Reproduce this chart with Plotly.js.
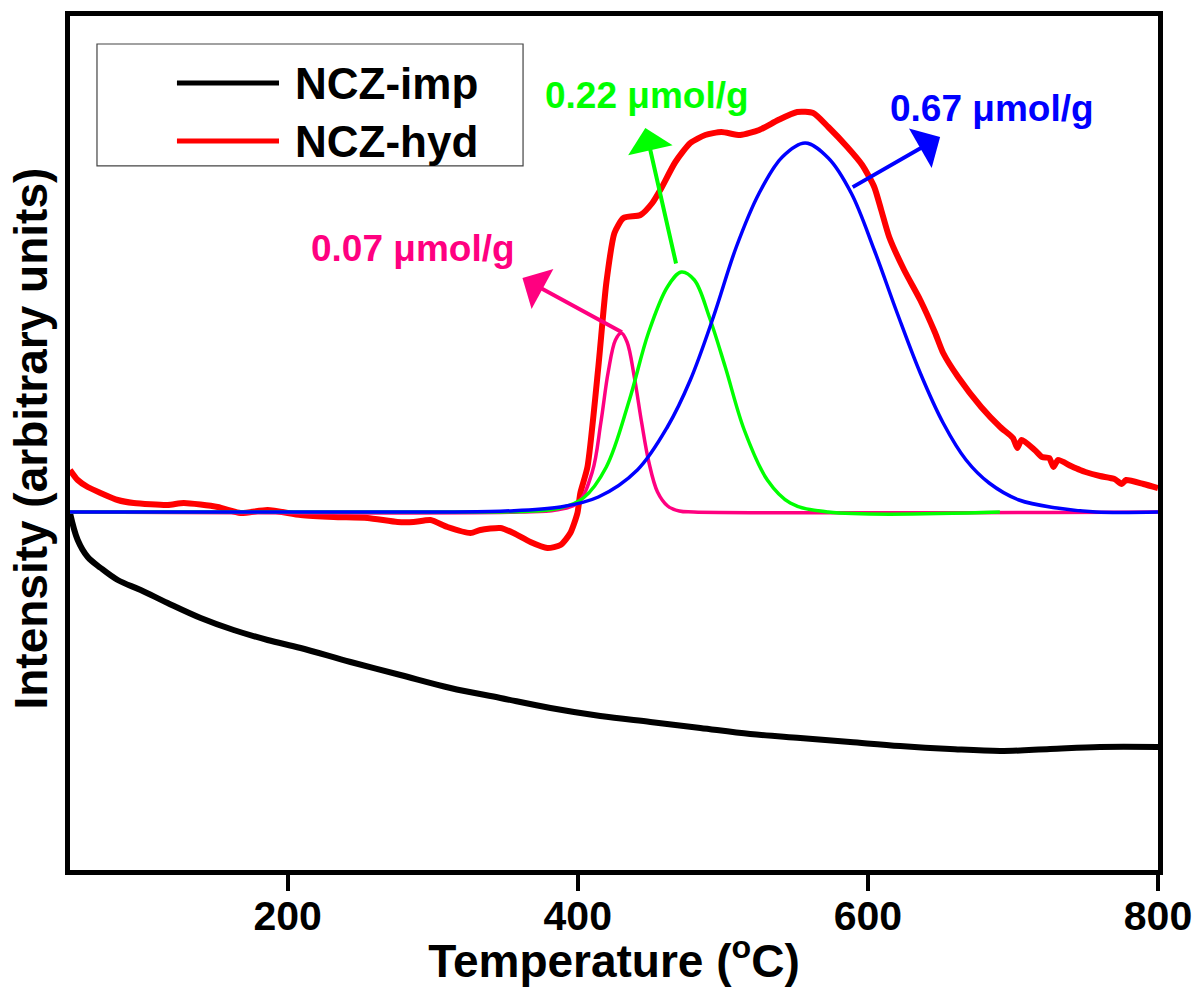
<!DOCTYPE html>
<html>
<head>
<meta charset="utf-8">
<script src="https://cdn.plot.ly/plotly-3.0.1.min.js"></script>
<style>html,body{margin:0;padding:0;background:#fff;}#chart{width:1201px;height:987px;}</style>
</head>
<body>
<div id="chart"></div>
<script>
// ---- data (temperature in °C, intensity in arbitrary units, baseline = 0) ----
const seriesNames = ["NCZ-imp", "NCZ-hyd"];
const peakLabels = ["0.07 \u03bcmol/g", "0.22 \u03bcmol/g", "0.67 \u03bcmol/g"];
const xTickVals = [200, 400, 600, 800];

const impT = [50, 55.3, 62.2, 71.2, 82.9, 98.7, 117.3, 140.1, 162.8, 186.2, 209, 243.4, 277.8, 312.3, 346.7, 381.2, 415.6, 450.1, 484.5, 518.9, 553.4, 587.8, 622.3, 656.7, 691.2, 725.6, 760, 800];
const impI = [-0.01, -0.28, -0.45, -0.56, -0.68, -0.78, -0.91, -1.06, -1.18, -1.28, -1.36, -1.50, -1.63, -1.76, -1.86, -1.96, -2.04, -2.10, -2.16, -2.22, -2.26, -2.30, -2.34, -2.37, -2.39, -2.37, -2.35, -2.35];

const hydT = [50, 55.3, 62.2, 71.2, 82.9, 93.9, 117.3, 128.4, 151.8, 167.6, 186.2, 209, 231.7, 255.1, 275.8, 286.8, 298.5, 310.2, 326.1, 332.9, 346.7, 355.7, 367.4, 379.1, 388.1, 394.9, 399.8, 401.8, 406.7, 414.2, 419.7, 425.3, 431.5, 443.2, 451.4, 456.9, 467.3, 477.6, 487.9, 499, 512, 525.1, 538.2, 551.3, 562.3, 572.7, 585.8, 596.1, 604.4, 609.2, 614.7, 625, 636.1, 646.4, 651.9, 662.2, 678.1, 691.2, 700, 703, 706, 715, 720.1, 725, 728, 731, 740, 746.3, 750, 760, 770, 775, 778, 790, 800];
const hydI = [0.42, 0.32, 0.25, 0.19, 0.12, 0.09, 0.07, 0.09, 0.05, -0.01, 0.02, -0.03, -0.05, -0.06, -0.10, -0.10, -0.08, -0.15, -0.21, -0.18, -0.16, -0.21, -0.30, -0.36, -0.33, -0.21, -0.01, 0.19, 0.45, 1.45, 2.29, 2.79, 2.94, 2.97, 3.09, 3.22, 3.50, 3.69, 3.77, 3.80, 3.77, 3.82, 3.92, 4.00, 3.99, 3.85, 3.65, 3.47, 3.25, 3.02, 2.75, 2.42, 2.12, 1.79, 1.59, 1.35, 1.05, 0.85, 0.74, 0.64, 0.72, 0.62, 0.55, 0.54, 0.45, 0.52, 0.46, 0.42, 0.40, 0.36, 0.33, 0.28, 0.32, 0.28, 0.24];

const pinkT = [50, 360, 385, 400, 410, 416, 421, 426, 430, 434, 439, 444, 449, 455, 462, 470, 480, 800];
const pinkI = [0, 0, 0.02, 0.09, 0.40, 0.90, 1.40, 1.72, 1.79, 1.70, 1.35, 0.90, 0.50, 0.20, 0.06, 0.01, 0, 0];

const greenT = [50, 340, 370, 388.1, 403.9, 419.7, 435.6, 448.7, 461.8, 471.4, 480.4, 490.7, 501.7, 514.8, 530.7, 546.5, 572.7, 691];
const greenI = [0, 0, 0.01, 0.04, 0.14, 0.45, 1.12, 1.79, 2.25, 2.40, 2.32, 1.95, 1.45, 0.82, 0.32, 0.09, 0, 0];

const blueT = [50, 300, 350, 388.1, 414.2, 441.1, 461.8, 477.6, 493.5, 509.3, 525.1, 541, 556.8, 572.7, 588.5, 604.4, 620.2, 636.1, 651.9, 667.7, 683.6, 704.2, 730.4, 757.3, 800];
const blueI = [0, 0, 0.01, 0.05, 0.15, 0.42, 0.85, 1.32, 1.95, 2.65, 3.19, 3.55, 3.69, 3.54, 3.19, 2.62, 1.99, 1.39, 0.89, 0.52, 0.29, 0.12, 0.04, 0, 0];

// arrow tails (on peaks) and heads, and label anchors (data coords)
const arrowTailT = [431.5, 468.0, 588.5];
const arrowTailI = [1.79, 2.47, 3.24];
const arrowHeadT = [361.9, 446.6, 649.8];
const arrowHeadI = [2.34, 3.84, 3.75];
const labelT = [286.4, 447.6, 685.7];
const labelI = [2.64, 4.17, 4.04];
const peakColors = ["#FF0080", "#00FF00", "#0000FF"];

const FONT = 'Arial, "Liberation Sans", sans-serif';

const traces = [
  {x: impT, y: impI, name: seriesNames[0], mode: 'lines', line: {color: '#000000', width: 6, shape: 'spline'}},
  {x: hydT, y: hydI, name: seriesNames[1], mode: 'lines', line: {color: '#FF0000', width: 6, shape: 'spline', smoothing: 0.6}},
  {x: pinkT, y: pinkI, name: 'fit 1', mode: 'lines', line: {color: peakColors[0], width: 3.5, shape: 'spline'}},
  {x: greenT, y: greenI, name: 'fit 2', mode: 'lines', line: {color: peakColors[1], width: 3.5, shape: 'spline'}},
  {x: blueT, y: blueI, name: 'fit 3', mode: 'lines', line: {color: peakColors[2], width: 3.5, shape: 'spline'}}
];

const annotations = [];
for (let i = 0; i < 3; i++) {
  annotations.push({
    x: arrowHeadT[i], y: arrowHeadI[i], xref: 'x', yref: 'y',
    ax: arrowTailT[i], ay: arrowTailI[i], axref: 'x', ayref: 'y',
    text: '', showarrow: true, arrowhead: 1, arrowsize: 1.9, arrowwidth: 4,
    arrowcolor: peakColors[i]
  });
  annotations.push({
    x: labelT[i], y: labelI[i], xref: 'x', yref: 'y', showarrow: false,
    text: '<b>' + peakLabels[i] + '</b>', font: {family: FONT, size: 37, color: peakColors[i]},
    xanchor: 'center', yanchor: 'middle'
  });
}
// y-axis title
annotations.push({
  x: -0.036, y: 0.505, xref: 'paper', yref: 'paper', showarrow: false, textangle: -90,
  text: '<b>Intensity (arbitrary units)</b>', font: {family: FONT, size: 46, color: '#000'},
  xanchor: 'center', yanchor: 'middle'
});
// legend texts
const legY = [0.9215, 0.8536];
const legColors = ['#000000', '#FF0000'];
const shapes = [
  {type: 'rect', xref: 'paper', yref: 'paper', x0: 0.0248, x1: 0.4164, y0: 0.8244, y1: 0.9672,
   line: {color: '#444', width: 1.2}, fillcolor: 'rgba(255,255,255,1)', layer: 'above'}
];
for (let i = 0; i < 2; i++) {
  shapes.push({type: 'line', xref: 'paper', yref: 'paper', x0: 0.0983, x1: 0.1921, y0: legY[i], y1: legY[i],
    line: {color: legColors[i], width: 5}, layer: 'above'});
  annotations.push({x: 0.205, y: legY[i], xref: 'paper', yref: 'paper', showarrow: false,
    text: '<b>' + seriesNames[i] + '</b>', font: {family: FONT, size: 44, color: '#000'},
    xanchor: 'left', yanchor: 'middle'});
}

const layout = {
  width: 1201, height: 987,
  margin: {l: 70, r: 43, t: 16, b: 117},
  paper_bgcolor: '#fff', plot_bgcolor: '#fff',
  showlegend: false,
  font: {family: FONT, color: '#000'},
  xaxis: {
    range: [50, 800], tickvals: xTickVals, ticktext: xTickVals.map(v => '<b>' + v + '</b>'),
    ticks: 'outside', ticklen: 16, tickwidth: 4, tickcolor: '#000',
    ticklabelstandoff: -10,
    showline: true, linewidth: 5, linecolor: '#000', mirror: true,
    showgrid: false, zeroline: false,
    tickfont: {family: FONT, size: 41, color: '#000'},
    title: {text: '<b>Temperature (<sup>o</sup>C)</b>', font: {family: FONT, size: 46, color: '#000'}, standoff: 4}
  },
  yaxis: {
    range: [-3.58, 4.96], showticklabels: false, ticks: '',
    showline: true, linewidth: 5, linecolor: '#000', mirror: true,
    showgrid: false, zeroline: false
  },
  annotations: annotations,
  shapes: shapes
};

Plotly.newPlot('chart', traces, layout, {staticPlot: true, displayModeBar: false});
</script>
</body>
</html>
